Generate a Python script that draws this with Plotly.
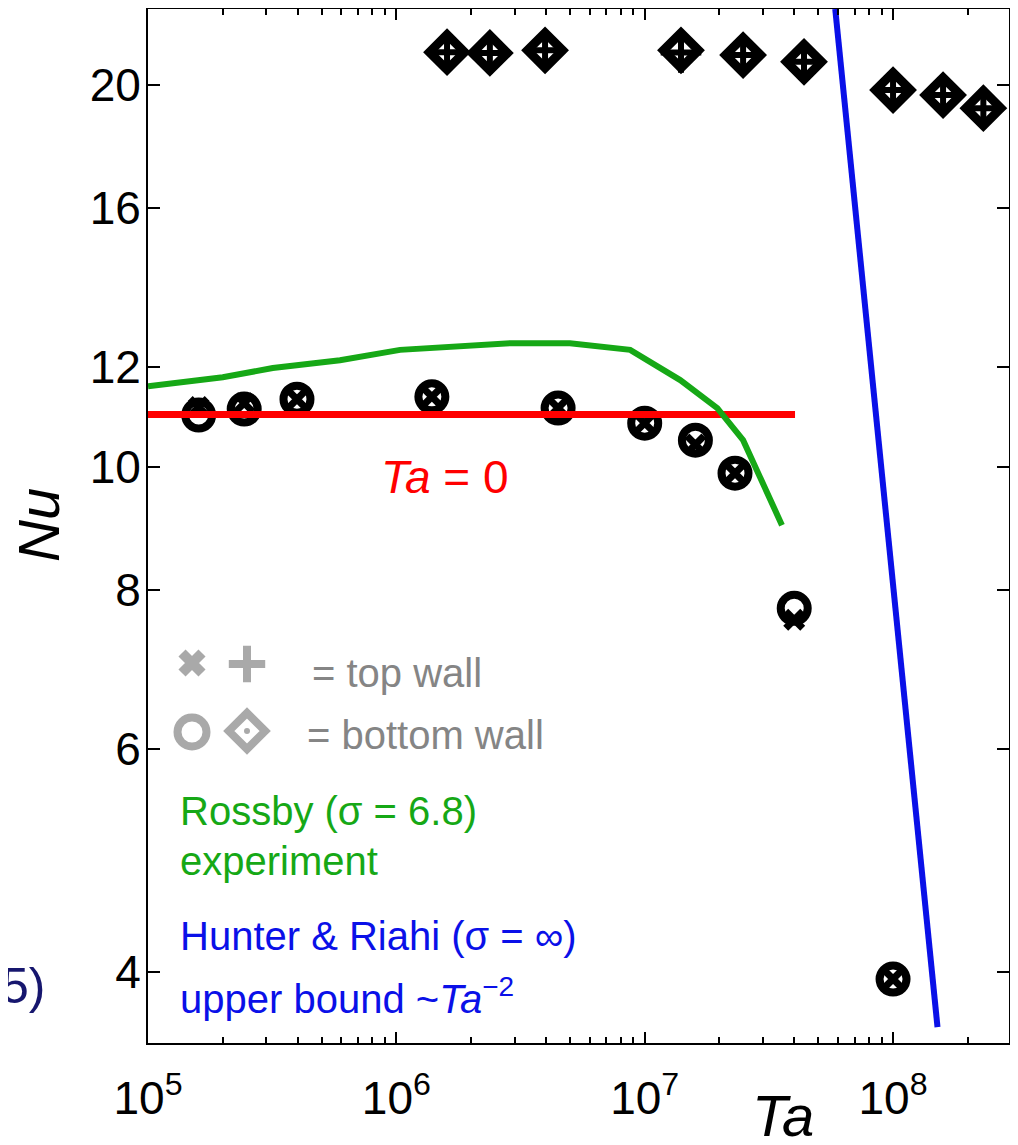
import plotly.graph_objects as go
import numpy as np

# ---------------- data ----------------
# lower branch (circles = bottom wall, x = top wall)
ta_low = [1.6e5, 2.44e5, 3.98e5, 1.39e6, 4.48e6, 1.0e7, 1.6e7, 2.31e7, 4.0e7, 1.0e8]
nu_low_bottom = [10.99, 11.11, 11.31, 11.36, 11.13, 10.83, 10.50, 9.89, 7.74, 3.95]
nu_low_top = [11.15, 11.23, 11.31, 11.36, 11.13, 10.83, 10.42, 9.89, 7.58, 3.95]

# upper branch (diamonds = bottom wall, + = top wall)
ta_up = [1.6e6, 2.38e6, 3.97e6, 1.40e7, 2.49e7, 4.38e7, 1.0e8, 1.59e8, 2.31e8]
nu_up_bottom = [21.23, 21.20, 21.30, 21.30, 21.12, 20.86, 19.82, 19.64, 19.18]
nu_up_top = [21.23, 21.20, 21.30, 21.22, 21.12, 20.86, 19.82, 19.64, 19.18]

# Ta = 0 reference value
ta_zero = [1.0e5, 4.03e7]
nu_zero = [11.0, 11.0]

# Rossby (sigma = 6.8) experiment
ta_rossby = [1.0e5, 2.0e5, 3.18e5, 5.93e5, 1.035e6, 2.87e6, 5.0e6, 8.74e6, 1.39e7, 1.96e7, 2.49e7, 3.57e7]
nu_rossby = [11.58, 11.77, 11.97, 12.14, 12.37, 12.52, 12.52, 12.37, 11.71, 11.13, 10.50, 9.00]

# Hunter & Riahi upper bound ~ Ta^-2
ta_hr = [5.85e7, 1.51e8]
nu_hr = [22.96, 3.62]

x_major = [1e5, 1e6, 1e7, 1e8]
x_major_text = ["10<sup>5</sup>", "10<sup>6</sup>", "10<sup>7</sup>", "10<sup>8</sup>"]
y_ticks = [4, 6, 8, 10, 12, 16, 20]
y_tick_text = ["4", "6", "8", "10", "12", "16", "20"]

# ---------------- layout helpers ----------------
OFF = 8  # page body margin
W, H = 1018 - OFF, 1145 - OFF
# page-pixel positions of the plot frame
PL, PR, PT, PB = 148, 1009, 9, 1043
ML, MR, MT, MB = PL - OFF, (W + OFF) - PR, PT - OFF, (H + OFF) - PB
PW = PR - PL
PH = PB - PT


def px(x):
    return (x - PL) / PW


def py(y):
    return (PB - y) / PH


FONT = "Liberation Sans, Arial, Helvetica, sans-serif"
GREEN = "#16a816"
BLUE = "#0a10e8"
RED = "#ff0000"
GRAY = "#858585"

x_minor = [m * 10 ** e for e in range(5, 9) for m in range(2, 10) if m * 10 ** e < 3e8]

fig = go.Figure()

# markers
fig.add_trace(go.Scatter(x=ta_low, y=nu_low_bottom, mode="markers",
                         marker=dict(symbol="circle-open", size=27, color="black",
                                     line=dict(width=8, color="black")),
                         showlegend=False))
fig.add_trace(go.Scatter(x=ta_low, y=nu_low_top, mode="markers",
                         marker=dict(symbol="x-thin-open", size=17, color="black",
                                     line=dict(width=7, color="black")),
                         showlegend=False))
fig.add_trace(go.Scatter(x=ta_up, y=nu_up_bottom, mode="markers",
                         marker=dict(symbol="diamond-open", size=27, color="black",
                                     line=dict(width=9, color="black")),
                         showlegend=False))
fig.add_trace(go.Scatter(x=ta_up, y=nu_up_top, mode="markers",
                         marker=dict(symbol="cross-thin-open", size=29, color="black",
                                     line=dict(width=6, color="black")),
                         showlegend=False))

# lines
fig.add_trace(go.Scatter(x=ta_zero, y=nu_zero, mode="lines",
                         line=dict(color=RED, width=7), showlegend=False))
fig.add_trace(go.Scatter(x=ta_rossby, y=nu_rossby, mode="lines",
                         line=dict(color=GREEN, width=6), showlegend=False))
fig.add_trace(go.Scatter(x=ta_hr, y=nu_hr, mode="lines",
                         line=dict(color=BLUE, width=6), showlegend=False))

# legend key glyphs on an overlay paper-like axis
key_x = [px(192), px(247), px(192), px(247), px(247)]
key_y = [py(663), py(664), py(732), py(731), py(731)]
key_sym = ["x-thin-open", "cross-thin-open", "circle-open", "diamond-open", "circle"]
key_size = [20, 26, 29, 28, 6]
key_lw = [10, 8, 8, 8, 0]
fig.add_trace(go.Scatter(x=key_x, y=key_y, xaxis="x2", yaxis="y2", mode="markers",
                         marker=dict(symbol=key_sym, size=key_size, color=GRAY,
                                     line=dict(width=key_lw, color=GRAY)),
                         showlegend=False, hoverinfo="skip"))

ann = []


def text(x, y, s, size, color, xanchor="left", yanchor="middle", angle=0):
    ann.append(dict(x=px(x), y=py(y), xref="paper", yref="paper", text=s,
                    showarrow=False, xanchor=xanchor, yanchor=yanchor,
                    textangle=angle, font=dict(family=FONT, size=size, color=color)))


text(310, 673, "= top wall", 40, GRAY)
text(305, 735, "= bottom wall", 40, GRAY)
text(178, 811, "Rossby (σ = 6.8)", 40, GREEN)
text(178, 861, "experiment", 40, GREEN)
text(178, 936, "Hunter &amp; Riahi (σ = ∞)", 40, BLUE)
text(178, 996, "upper bound ~<i>Ta</i><sup>−2</sup>", 40, BLUE)
text(444, 477, "<i>Ta</i> = 0", 46, RED, xanchor="center")
text(38, 525, "<i>Nu</i>", 58, "black", xanchor="center", angle=-90)
text(783, 1115, "<i>Ta</i>", 58, "black", xanchor="center")
text(47, 986, "5)", 50, "#16166e", xanchor="right")

fig.update_layout(
    width=W, height=H,
    margin=dict(l=ML, r=MR, t=MT, b=MB, pad=0, autoexpand=False),
    paper_bgcolor="white", plot_bgcolor="white",
    font=dict(family=FONT, size=46, color="black"),
    annotations=ann,
    xaxis=dict(type="log", range=[5, np.log10(2.93e8)], automargin=False,
               tickmode="array", tickvals=x_major, ticktext=x_major_text,
               ticks="inside", ticklen=11, tickwidth=2, tickcolor="black",
               showline=True, linecolor="black", linewidth=2, mirror="ticks",
               showgrid=False, zeroline=False, ticklabelstandoff=14,
               tickfont=dict(size=46, family=FONT, color="black"),
               minor=dict(tickmode="array", tickvals=x_minor, ticks="inside",
                          ticklen=6, tickwidth=2, tickcolor="black", showgrid=False)),
    yaxis=dict(type="log", range=[np.log10(3.517), np.log10(22.96)], automargin=False,
               tickmode="array", tickvals=y_ticks, ticktext=y_tick_text,
               ticks="inside", ticklen=12, tickwidth=2, tickcolor="black",
               showline=True, linecolor="black", linewidth=2, mirror="ticks",
               showgrid=False, zeroline=False, ticklabelstandoff=-4,
               tickfont=dict(size=46, family=FONT, color="black")),
    xaxis2=dict(overlaying="x", range=[0, 1], visible=False, fixedrange=True),
    yaxis2=dict(overlaying="y", range=[0, 1], visible=False, fixedrange=True),
)

fig.write_html("out.html")
